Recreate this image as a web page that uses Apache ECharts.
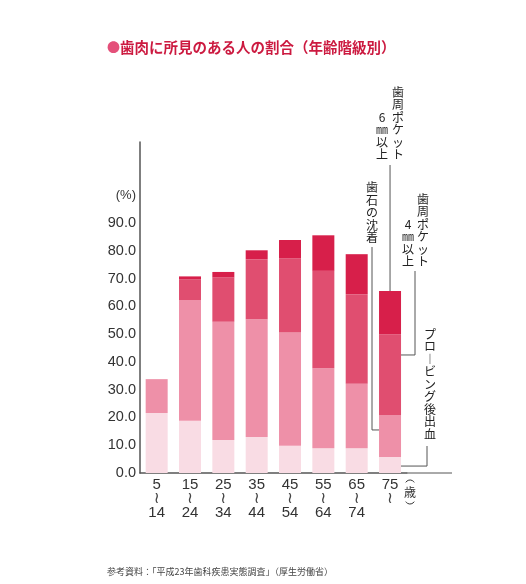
<!DOCTYPE html>
<html>
<head>
<meta charset="utf-8">
<script src="https://cdn.jsdelivr.net/npm/echarts@6/dist/echarts.min.js"></script>
<style>
html, body {margin:0; padding:0; background:#fff;}
#chart {width:526px; height:584px;}
</style>
</head>
<body>
<div id="chart"></div>
<script>
// 年齢階級
var ageFrom = ['5', '15', '25', '35', '45', '55', '65', '75'];
var ageTo = ['14', '24', '34', '44', '54', '64', '74', ''];
// 各区分の割合（%）、下から積み上げ
var bleeding = [21.6, 18.8, 11.9, 13.0, 9.8, 8.9, 8.9, 5.8];
var calculus = [12.2, 43.5, 42.6, 42.4, 40.8, 28.8, 23.2, 15.1];
var pocket4 = [0, 7.5, 15.9, 21.6, 26.6, 35.1, 32.3, 29.1];
var pocket6 = [0, 1.0, 2.0, 3.2, 6.7, 12.8, 14.4, 15.5];
var yTicks = [0, 10, 20, 30, 40, 50, 60, 70, 80, 90];

var colors = ['#f9dce4', '#ee90a8', '#e04e70', '#d71f4a'];
var jp = '"Noto Sans CJK JP", sans-serif';
var num = '"Liberation Sans", Arial, sans-serif';

var myChart = echarts.init(document.getElementById('chart'));

var makeSeries = function(name, data, i){
	return {
		name: name,
		type: 'bar',
		stack: 'all',
		barWidth: 22,
		data: data,
		itemStyle: {color: colors[i]},
		silent: true
	};
};

var option = {
	animation: false,
	backgroundColor: '#fff',
	grid: {left: 140, top: 142, width: 266.7, bottom: 111},
	xAxis: {
		type: 'category',
		data: ageFrom,
		axisLine: {lineStyle: {color: '#555', width: 1.5}},
		axisTick: {show: false},
		axisLabel: {
			interval: 0,
			margin: 5,
			formatter: function(v, i){
				var s = '{a|' + v + '}\n{b|≀}';
				if(ageTo[i]) s += '\n{a|' + ageTo[i] + '}';
				return s;
			},
			rich: {
				a: {fontFamily: num, fontSize: 15, color: '#333', lineHeight: 14},
				b: {fontFamily: 'DejaVu Sans', fontSize: 16, color: '#444', lineHeight: 14}
			}
		}
	},
	yAxis: {
		type: 'value',
		min: 0,
		max: 119.2,
		interval: 10,
		splitLine: {show: false},
		axisTick: {show: false},
		axisLine: {show: true, lineStyle: {color: '#555', width: 1.5}},
		axisLabel: {
			margin: 4,
			fontFamily: num,
			fontSize: 14.5,
			color: '#333',
			formatter: function(v){
				if(v === 100) return '{p|(%)}';
				if(yTicks.indexOf(v) >= 0) return v.toFixed(1);
				return '';
			},
			rich: {p: {fontFamily: num, fontSize: 13, color: '#333'}}
		}
	},
	series: [
		makeSeries('プロービング後出血', bleeding, 0),
		makeSeries('歯石の沈着', calculus, 1),
		makeSeries('歯周ポケット4㎜以上', pocket4, 2),
		makeSeries('歯周ポケット6㎜以上', pocket6, 3)
	]
};
myChart.setOption(option);

// 縦書きテキスト
var vtext = function(str, x, y, va){
	return {
		type: 'text', x: x, y: y, silent: true,
		style: {
			text: str.split('').join('\n'),
			font: '12px ' + jp, fill: '#222',
			align: 'center', verticalAlign: va || 'bottom', lineHeight: 12.5
		}
	};
};
var line = function(pts){
	return {
		type: 'polyline', silent: true,
		shape: {points: pts},
		style: {stroke: '#555', lineWidth: 1, fill: null}
	};
};
// 縦書きの括弧（弧で描く）
var paren = function(cx, cy, up){
	var a = 0.55;
	return {
		type: 'arc', silent: true,
		shape: {
			cx: cx, cy: cy, r: 5,
			startAngle: up ? Math.PI + a : a,
			endAngle: up ? 2 * Math.PI - a : Math.PI - a,
			clockwise: true
		},
		style: {stroke: '#333', lineWidth: 1, fill: null}
	};
};
var px = function(i, v){
	return myChart.convertToPixel({xAxisIndex: 0, yAxisIndex: 0}, [i, v]);
};

var last = ageFrom.length - 1;
var p0 = px(last, 0);
var bx = p0[0];
var gRight = myChart.convertToPixel({xAxisIndex: 0}, last) + 16.7;
var a6 = px(last, 57)[1],
	aCal = px(last, 15.5)[1],
	a4 = px(last, 42.5)[1],
	aBl = px(last, 2.5)[1];

myChart.setOption({
	graphic: [
		// タイトル
		{
			type: 'text', x: 107, y: 47, silent: true,
			style: {
				text: '{d|●}{t|歯肉に所見のある人の割合（年齢階級別）}',
				verticalAlign: 'middle',
				rich: {
					d: {fontSize: 13, fill: '#e4507a', fontFamily: jp},
					t: {fontSize: 14.5, fontWeight: 'bold', fill: '#cc1a40', fontFamily: jp}
				}
			}
		},
		// x軸の延長
		line([[gRight, p0[1]], [452, p0[1]]]),
		// 単位（歳）
		paren(410, 485, true),
		{
			type: 'text', x: 410, y: 492, silent: true,
			style: {text: '歳', font: '12px ' + jp, fill: '#333', align: 'center', verticalAlign: 'middle'}
		},
		paren(410, 499, false),
		// 注記
		vtext('歯周ポケット', 398, 161),
		vtext('6㎜以上', 382, 161),
		line([[bx, 165], [bx, a6]]),
		vtext('歯石の沈着', 372, 244),
		line([[372, 247], [372, aCal], [bx, aCal]]),
		vtext('歯周ポケット', 423, 268),
		vtext('4㎜以上', 408, 268),
		line([[415, 271], [415, a4], [bx + 2, a4]]),
		vtext('プロ︱ビング後出血', 430, 328, 'top'),
		line([[427, 446], [427, aBl], [bx - 1, aBl]]),
		// 出典
		{
			type: 'text', x: 107, y: 572, silent: true,
			style: {
				text: '参考資料：「平成23年歯科疾患実態調査」（厚生労働省）',
				font: '9px ' + jp, fill: '#444', verticalAlign: 'middle'
			}
		}
	]
});
</script>
</body>
</html>
